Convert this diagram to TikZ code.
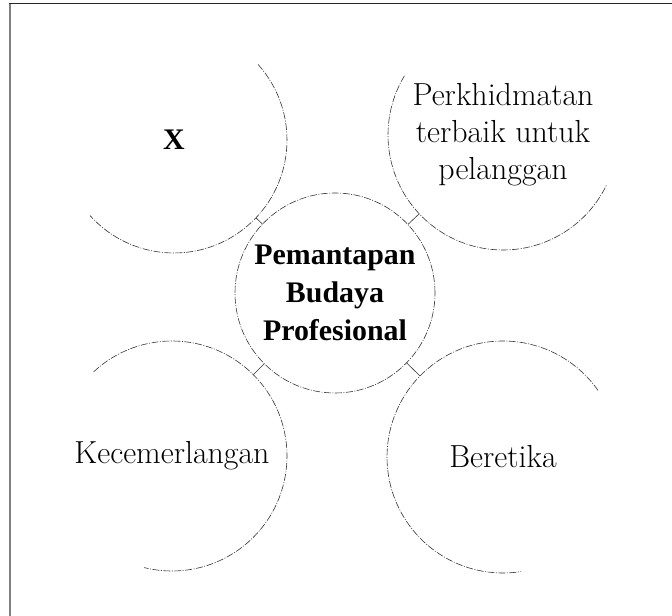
\documentclass[tikz,border=0pt]{standalone}
\usepackage{fontspec}
\newfontfamily\hubfont{Liberation Serif}

\tikzset{
    value/.style={circle, inner sep=0pt, align=center,
        font=\fontsize{32}{37}\selectfont},
    hub/.style={circle, draw, rim, text=black, inner sep=0pt, minimum size=200bp, align=center,
        font=\hubfont\bfseries\fontsize{30}{38}\selectfont},
    rim/.style={line width=0.6pt, black!80,
        dash pattern=on 7pt off 1.5pt on 1pt off 1.5pt},
    link/.style={line width=0.6pt, black!80}
}

\begin{document}
\begin{tikzpicture}[x=1bp, y=1bp]
    \useasboundingbox (0,0) rectangle (672,616);
    % frame
    \draw[gray, line width=2bp] (10,0) -- (10,613);
    \draw[black!85, line width=1.5bp] (9,612.5) -- (672,612.5);

    \node[hub] (hub) at (335, 323) {Pemantapan\\Budaya\\Profesional};
    \node[value, minimum size=226bp] (x) at (174, 476) {\hubfont\bfseries\fontsize{30}{30}\selectfont X};
    \node[value, minimum size=230bp] (servis) at (503, 481) {Perkhidmatan\\terbaik untuk\\pelanggan};
    \node[value, minimum size=230bp] (cemerlang) at (172, 160) {Kecemerlangan};
    \node[value, minimum size=232bp] (etika) at (503, 159) {Beretika};

    % open rims
    \draw[rim] (x.center) ++(42:113) arc[start angle=42, end angle=-138, radius=113];
    \draw[rim] (servis.center) ++(149:115) arc[start angle=149, end angle=334, radius=115];
    \draw[rim] (cemerlang.center) ++(133:115) arc[start angle=133, end angle=-104, radius=115];
    \draw[rim] (etika.center) ++(35:116) arc[start angle=35, end angle=279, radius=116];

    \draw
    (x) edge[link] (hub)
    (servis) edge[link] (hub)
    (cemerlang) edge[link] (hub)
    (etika) edge[link] (hub);
\end{tikzpicture}
\end{document}
